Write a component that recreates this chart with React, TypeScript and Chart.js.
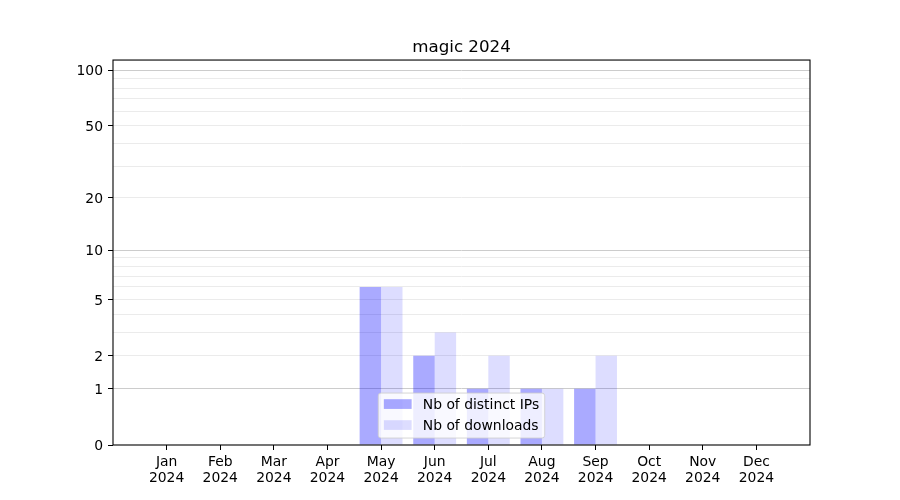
import React, { useEffect, useRef } from "react";
import { Chart, registerables, LinearScale } from "chart.js";

Chart.register(...registerables);

const TITLE = "magic 2024";
const MONTHS = ["Jan", "Feb", "Mar", "Apr", "May", "Jun", "Jul", "Aug", "Sep", "Oct", "Nov", "Dec"];
const YEAR = "2024";
const DISTINCT_IPS = [0, 0, 0, 0, 6, 2, 1, 1, 1, 0, 0, 0];
const DOWNLOADS = [0, 0, 0, 0, 6, 3, 2, 1, 2, 0, 0, 0];
const SERIES_LABELS = ["Nb of distinct IPs", "Nb of downloads"];
const Y_LABELED_TICKS = [0, 1, 2, 5, 10, 20, 50, 100];
const Y_MAJOR_GRID = [1, 10, 100];
const Y_ALL_TICKS = [0, 1, 2, 3, 4, 5, 6, 7, 8, 9, 10, 20, 30, 40, 50, 60, 70, 80, 90, 100];
const Y_MAX = 113.3;

const FONT = '"DejaVu Sans", sans-serif';
const FS = 13.9;

class Log1pScale extends LinearScale {
  static id = "log1p";
  static defaults = (LinearScale as any).defaults;
  buildTicks() {
    return Y_ALL_TICKS.filter((v) => v >= (this as any).min && v <= (this as any).max).map((v) => ({ value: v }));
  }
  getPixelForValue(value: number) {
    const s: any = this;
    const lo = Math.log10(1 + s.min);
    const hi = Math.log10(1 + s.max);
    return s.getPixelForDecimal((Math.log10(1 + Math.max(value, 0)) - lo) / (hi - lo));
  }
  getValueForPixel(pixel: number) {
    const s: any = this;
    const lo = Math.log10(1 + s.min);
    const hi = Math.log10(1 + s.max);
    const d = s.getDecimalForPixel(pixel);
    return Math.pow(10, lo + d * (hi - lo)) - 1;
  }
}
Chart.register(Log1pScale as any);

const framePlugin = {
  id: "frame",
  afterDatasetsDraw(chart: any) {
    const { ctx, chartArea: a } = chart;
    ctx.save();
    ctx.strokeStyle = "#000";
    ctx.lineWidth = 1.1;
    ctx.strokeRect(a.left, a.top, a.right - a.left, a.bottom - a.top);
    ctx.restore();
  },
};

const legendPlugin = {
  id: "innerLegend",
  afterDraw(chart: any) {
    const { ctx, chartArea: a } = chart;
    const ds = chart.data.datasets;
    ctx.save();
    ctx.font = `${FS}px ${FONT}`;
    const pad = 0.4 * FS;
    const handleLen = 2 * FS;
    const handleH = 0.7 * FS;
    const textPad = 0.8 * FS;
    const rowGap = 21;
    const textW = Math.max(...ds.map((d: any) => ctx.measureText(d.label).width));
    const w = pad * 2 + handleLen + textPad + textW;
    const h = 45;
    const bottom = a.bottom - 0.5 * FS;
    const top = bottom - h;
    const left = (a.left + a.right) / 2 - w / 2;
    const r = 0.2 * FS;
    ctx.beginPath();
    ctx.moveTo(left + r, top);
    ctx.lineTo(left + w - r, top);
    ctx.quadraticCurveTo(left + w, top, left + w, top + r);
    ctx.lineTo(left + w, top + h - r);
    ctx.quadraticCurveTo(left + w, top + h, left + w - r, top + h);
    ctx.lineTo(left + r, top + h);
    ctx.quadraticCurveTo(left, top + h, left, top + h - r);
    ctx.lineTo(left, top + r);
    ctx.quadraticCurveTo(left, top, left + r, top);
    ctx.closePath();
    ctx.fillStyle = "rgba(255,255,255,0.8)";
    ctx.fill();
    ctx.strokeStyle = "rgba(204,204,204,0.8)";
    ctx.lineWidth = 1;
    ctx.stroke();
    ds.forEach((d: any, i: number) => {
      const cy = top + 11 + i * rowGap;
      ctx.fillStyle = d.backgroundColor;
      ctx.fillRect(left + pad, cy - handleH / 2, handleLen, handleH);
      ctx.fillStyle = "#000";
      ctx.textBaseline = "middle";
      ctx.textAlign = "left";
      ctx.fillText(d.label, left + pad + handleLen + textPad, cy + 1);
    });
    ctx.restore();
  },
};

export default function App() {
  const ref = useRef<HTMLCanvasElement | null>(null);
  useEffect(() => {
    if (!ref.current) return;
    Chart.defaults.font.family = FONT;
    Chart.defaults.color = "#000";
    const chart = new Chart(ref.current, {
      type: "bar",
      data: {
        datasets: [
          {
            label: SERIES_LABELS[0],
            data: MONTHS.map((_, i) => ({ x: i, y: DISTINCT_IPS[i] })),
            backgroundColor: "rgba(0,0,255,0.333)",
            borderWidth: 0,
            categoryPercentage: 0.8,
            barPercentage: 1.0,
          },
          {
            label: SERIES_LABELS[1],
            data: MONTHS.map((_, i) => ({ x: i, y: DOWNLOADS[i] })),
            backgroundColor: "rgba(0,0,255,0.133)",
            borderWidth: 0,
            categoryPercentage: 0.8,
            barPercentage: 1.0,
          },
        ],
      } as any,
      options: {
        animation: false,
        responsive: false,
        devicePixelRatio: 1,
        layout: { padding: { left: 0, right: 90, top: 0, bottom: 0 } },
        plugins: {
          legend: { display: false },
          tooltip: { enabled: false },
          title: {
            display: true,
            fullSize: false,
            text: TITLE,
            color: "#000",
            font: { family: FONT, size: 16.7, weight: "normal", lineHeight: 1.2 },
            padding: { top: 37.4, bottom: 2.6 },
          },
        },
        scales: {
          x: {
            type: "linear",
            min: -1,
            max: 12,
            offset: false,
            grid: { offset: false, drawOnChartArea: false, drawTicks: true, tickLength: 5, tickColor: "#000", tickWidth: 1 },
            border: { display: false },
            afterBuildTicks: (s: any) => {
              s.ticks = MONTHS.map((_, i) => ({ value: i }));
            },
            afterFit: (s: any) => {
              s.height = 55;
            },
            ticks: {
              autoSkip: false,
              maxRotation: 0,
              padding: 4,
              color: "#000",
              font: { family: FONT, size: FS, lineHeight: 1.16 },
              callback: (v: any) => [MONTHS[v], YEAR],
            },
          },
          y: {
            type: "log1p" as any,
            min: 0,
            max: Y_MAX,
            grid: {
              drawTicks: true,
              tickLength: 5,
              lineWidth: 1,
              color: (c: any) => {
                const v = c.tick ? c.tick.value : -1;
                if (v === 0) return "rgba(0,0,0,0)";
                return Y_MAJOR_GRID.includes(v) ? "#cccccc" : "#ebebeb";
              },
              tickColor: (c: any) => {
                const v = c.tick ? c.tick.value : -1;
                return Y_LABELED_TICKS.includes(v) ? "#000" : "rgba(0,0,0,0)";
              },
            },
            border: { display: false },
            afterFit: (s: any) => {
              s.width = 113;
            },
            ticks: {
              autoSkip: false,
              padding: 5,
              labelOffset: 1.5,
              color: "#000",
              font: { family: FONT, size: FS },
              callback: (v: any) => (Y_LABELED_TICKS.includes(v) ? String(v) : ""),
            },
          } as any,
        },
      },
      plugins: [framePlugin, legendPlugin],
    } as any);
    return () => chart.destroy();
  }, []);
  return (
    <>
      <style>{`body{margin:0;background:#fff}`}</style>
      <canvas ref={ref} width={900} height={500} />
    </>
  );
}
